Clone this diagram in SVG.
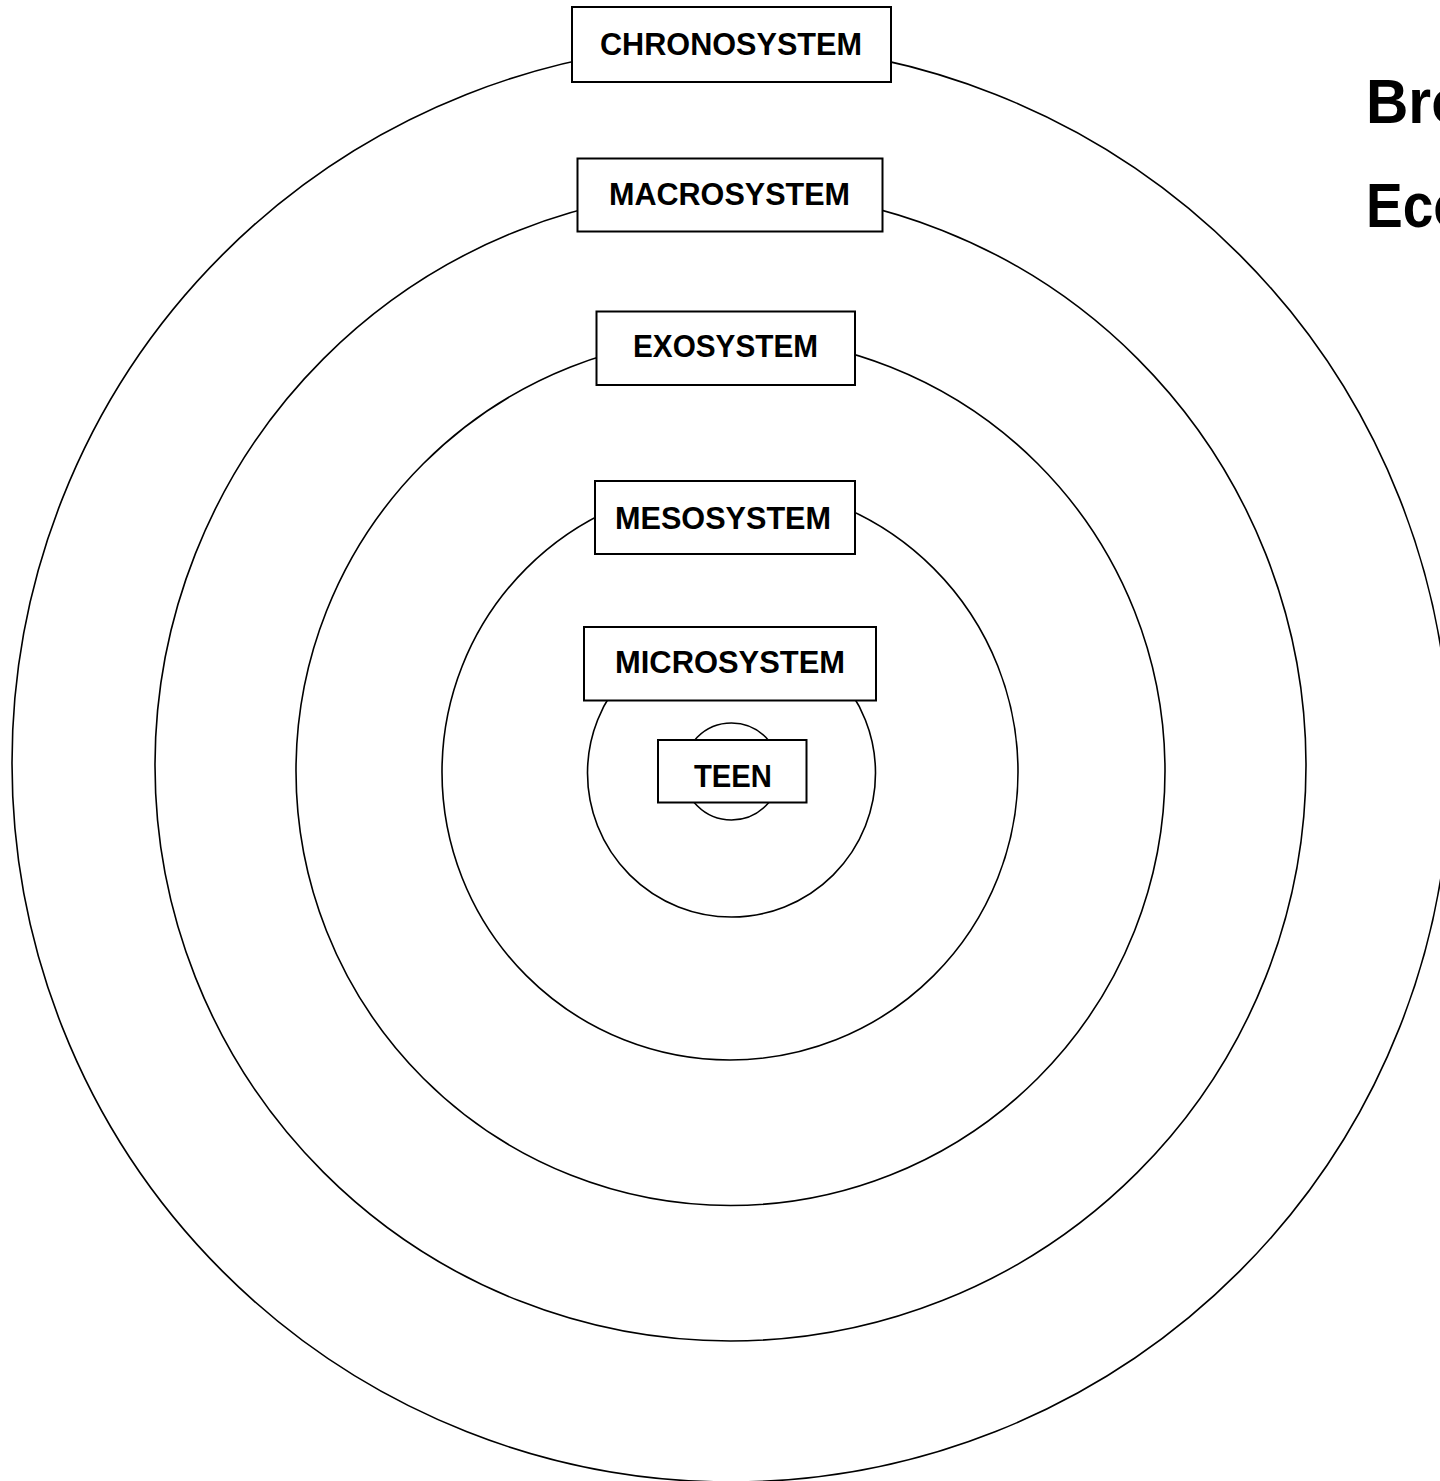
<svg xmlns="http://www.w3.org/2000/svg" width="1440" height="1481" viewBox="0 0 1440 1481">
<style>
.ring{fill:none;stroke:#000;stroke-width:1.6}
.box{fill:#fff;stroke:#000;stroke-width:2}
.lbl{font-family:"Liberation Sans",Arial,sans-serif;font-weight:bold;font-size:31px;fill:#000}
.title{font-family:"Liberation Sans",Arial,sans-serif;font-weight:bold;font-size:63px;fill:#000}
</style>
<rect width="1440" height="1481" fill="#fff"/>
<g id="rings">
<circle class="ring" cx="731" cy="763" r="719"/>
<circle class="ring" cx="730.5" cy="765.5" r="575.5"/>
<circle class="ring" cx="730.5" cy="771" r="434.5"/>
<circle class="ring" cx="730" cy="772" r="288"/>
<circle class="ring" cx="731.5" cy="773" r="144"/>
<circle class="ring" cx="731.5" cy="771.5" r="48.5"/>
</g>
<g id="chronosystem">
<rect class="box" x="572" y="7" width="319" height="75"/>
<text class="lbl" x="600" y="55" textLength="262" lengthAdjust="spacingAndGlyphs">CHRONOSYSTEM</text>
</g>
<g id="macrosystem">
<rect class="box" x="577.5" y="158.5" width="305" height="73"/>
<text class="lbl" x="609" y="205" textLength="241" lengthAdjust="spacingAndGlyphs">MACROSYSTEM</text>
</g>
<g id="exosystem">
<rect class="box" x="596.5" y="311.5" width="258.5" height="73.5"/>
<text class="lbl" x="633" y="357" textLength="185" lengthAdjust="spacingAndGlyphs">EXOSYSTEM</text>
</g>
<g id="mesosystem">
<rect class="box" x="595" y="481" width="260" height="73"/>
<text class="lbl" x="615" y="529" textLength="216" lengthAdjust="spacingAndGlyphs">MESOSYSTEM</text>
</g>
<g id="microsystem">
<rect class="box" x="584" y="627" width="292" height="73.5"/>
<text class="lbl" x="615" y="673" textLength="230" lengthAdjust="spacingAndGlyphs">MICROSYSTEM</text>
</g>
<g id="teen">
<rect class="box" x="658" y="740" width="148.5" height="62.5"/>
<text class="lbl" x="694" y="787" textLength="78" lengthAdjust="spacingAndGlyphs">TEEN</text>
</g>
<g id="title">
<text class="title" x="1366" y="123" textLength="101" lengthAdjust="spacingAndGlyphs">Bro</text>
<text class="title" x="1366" y="227" textLength="101" lengthAdjust="spacingAndGlyphs">Eco</text>
</g>
</svg>
